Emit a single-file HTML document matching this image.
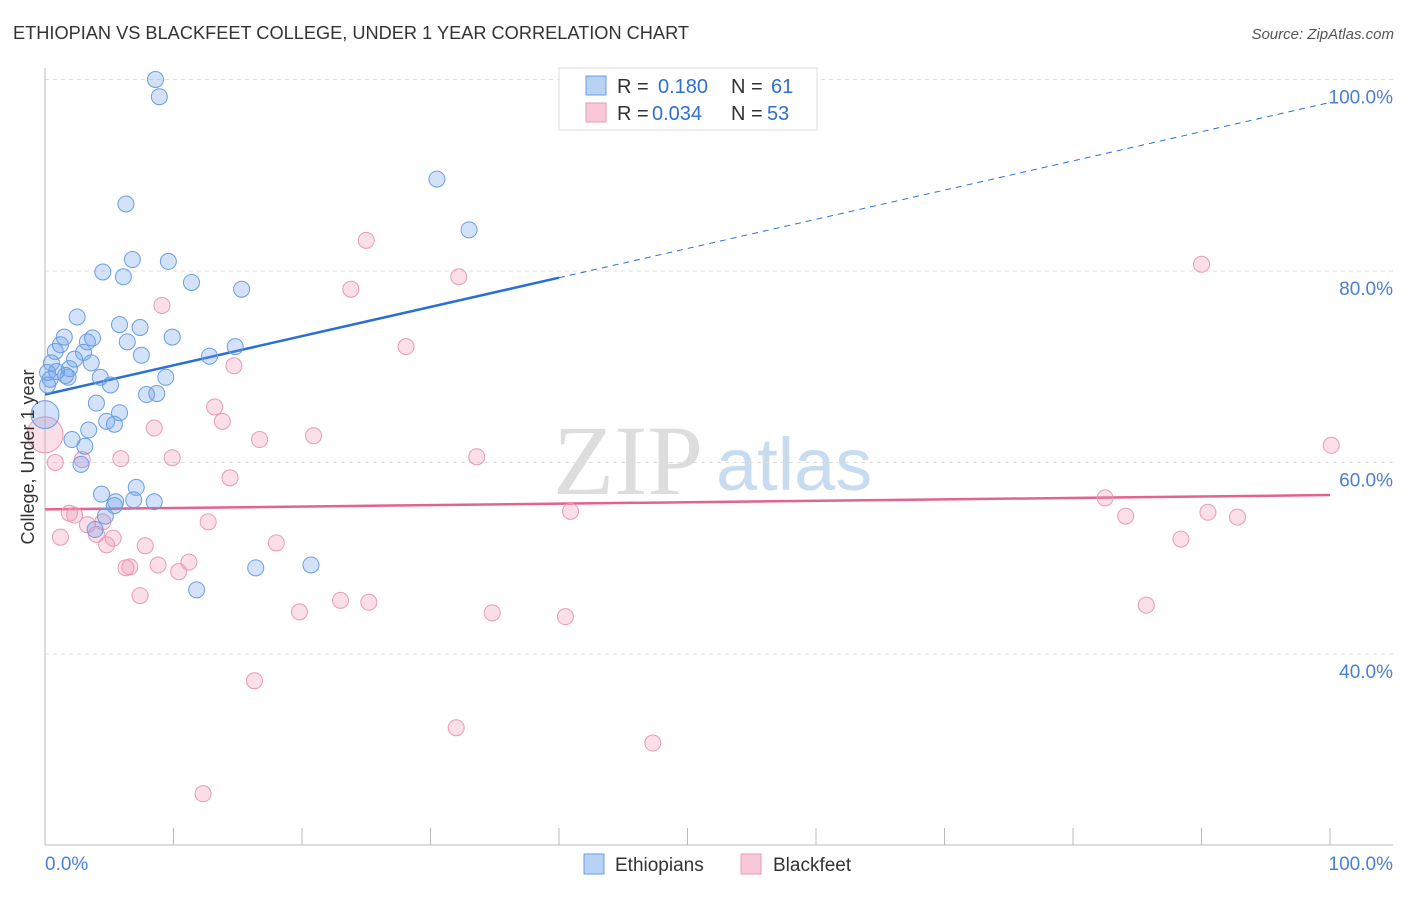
<!DOCTYPE html>
<html><head><meta charset="utf-8"><style>
body{margin:0;background:#fff;font-family:"Liberation Sans",sans-serif;}
svg text{font-family:"Liberation Sans",sans-serif;}
</style></head><body>
<svg id="c" width="1406" height="892">
<text x="13" y="39" font-size="18" fill="#333" textLength="676" lengthAdjust="spacingAndGlyphs">ETHIOPIAN VS BLACKFEET COLLEGE, UNDER 1 YEAR CORRELATION CHART</text>
<text x="1394" y="39" font-size="15" fill="#555" font-style="italic" text-anchor="end">Source: ZipAtlas.com</text>
<g>
<text x="553" y="494" font-size="100" fill="#ddd" style="font-family:'Liberation Serif',serif">ZIP</text>
<text x="716" y="490" font-size="74" fill="#c8dcf0">atlas</text>
</g>
<g id="grid"></g><g id="axes"></g><g id="lines"></g><g id="dots"></g>
<text transform="translate(34,457) rotate(-90)" font-size="18" fill="#333" text-anchor="middle">College, Under 1 year</text>
<g>
<rect x="559" y="68" width="258" height="62" fill="#fff" stroke="#ddd"/>
<rect x="586" y="76" width="20" height="19" fill="#b8d2f4" stroke="#6a9ee0"/>
<rect x="586" y="103" width="20" height="19" fill="#f8c8d8" stroke="#e89ab4"/>
<text x="617" y="93" font-size="20" fill="#333">R =</text>
<text x="658" y="93" font-size="20" fill="#2f6fcf">0.180</text>
<text x="731" y="93" font-size="20" fill="#333">N =</text>
<text x="771" y="93" font-size="20" fill="#2f6fcf">61</text>
<text x="617" y="120" font-size="20" fill="#333">R =</text>
<text x="652" y="120" font-size="20" fill="#2f6fcf">0.034</text>
<text x="731" y="120" font-size="20" fill="#333">N =</text>
<text x="767" y="120" font-size="20" fill="#2f6fcf">53</text>
</g>
<g>
<rect x="584" y="854" width="20" height="20" fill="#b8d2f4" stroke="#6a9ee0"/>
<text x="615" y="871" font-size="19" fill="#333">Ethiopians</text>
<rect x="741" y="854" width="20" height="20" fill="#f8c8d8" stroke="#e89ab4"/>
<text x="773" y="871" font-size="19" fill="#333">Blackfeet</text>
</g>
</svg>
<script>
const blueX=[8.6,8.9,30.5,33.0,6.3,6.8,9.6,4.5,6.1,11.4,15.3,2.5,5.8,7.4,1.5,3.7,9.9,3.3,1.2,6.4,14.8,3.0,0.8,7.5,12.8,2.3,3.6,0.5,1.9,0.9,0.2,1.8,1.6,0.4,9.4,5.1,4.3,7.9,8.7,4.0,5.8,4.8,5.4,3.4,2.1,3.1,2.8,0,4.4,7.1,5.5,8.5,5.4,6.9,4.7,3.9,16.4,20.7,11.8,0.2];
const blueY=[100,98.2,89.6,84.3,87.0,81.2,81.0,79.9,79.4,78.8,78.1,75.2,74.4,74.1,73.1,73.0,73.1,72.6,72.3,72.6,72.1,71.5,71.6,71.2,71.1,70.8,70.4,70.4,69.8,69.5,69.4,68.9,69.1,68.7,68.9,68.1,68.9,67.1,67.2,66.2,65.2,64.3,64.0,63.4,62.4,61.7,59.8,65.0,56.7,57.4,55.9,55.9,55.5,56.1,54.4,53.0,49.0,49.3,46.7,68.1];
const pinkX=[0,0.8,25.0,32.2,23.8,9.1,28.1,14.7,13.2,13.8,8.5,16.7,20.9,9.9,5.9,33.6,2.9,14.4,90.0,100.1,82.5,40.9,84.1,90.5,92.8,88.4,1.9,2.3,3.3,5.3,4.0,4.5,12.7,18.0,1.2,7.8,4.8,8.8,11.2,10.4,6.3,6.6,7.4,19.8,23.0,25.2,34.8,40.5,85.7,16.3,32.0,47.3,12.3];
const pinkY=[62.9,60.0,83.2,79.4,78.1,76.4,72.1,70.1,65.8,64.3,63.6,62.4,62.8,60.5,60.4,60.6,60.3,58.4,80.7,61.8,56.3,54.9,54.4,54.8,54.3,52.0,54.7,54.5,53.5,52.1,52.5,53.8,53.8,51.6,52.2,51.3,51.4,49.3,49.6,48.6,49.0,49.1,46.1,44.4,45.6,45.4,44.3,43.9,45.1,37.2,32.3,30.7,25.4];
const blueTrend=[67.1,97.6];
const pinkTrend=[55.1,56.6];
const yTicks=[100,80,60,40];
const yTickLabels=["100.0%","80.0%","60.0%","40.0%"];
const xTickLabels=["0.0%","100.0%"];

const NS="http://www.w3.org/2000/svg";
const sx=v=>45+v*12.85;
const sy=v=>79.5+(100-v)*9.575;
function mk(tag,attrs,parent){const e=document.createElementNS(NS,tag);for(const k in attrs)e.setAttribute(k,attrs[k]);document.getElementById(parent).appendChild(e);return e;}
yTicks.forEach((t,i)=>{
 const g=mk('line',{x1:45,x2:1393,y1:sy(t),y2:sy(t),stroke:'#ddd','stroke-dasharray':'4,4'},'grid');
 
 
 const l=mk('text',{x:1393,y:sy(t)+24,'font-size':19,fill:'#4a7fd4','text-anchor':'end'},'grid');
 l.textContent=yTickLabels[i];
 
 
});
const xa=mk('line',{x1:45,x2:1393,y1:845,y2:845,stroke:'#bbb'},'axes');


const ya=mk('line',{x1:45,x2:45,y1:68,y2:845,stroke:'#bbb'},'axes');


for(let i=0;i<=10;i++){
 const t=mk('line',{x1:sx(i*10),x2:sx(i*10),y1:828,y2:845,stroke:'#bbb'},'axes');
 
 
}
const xl0=mk('text',{x:45,y:870,'font-size':19,fill:'#4a7fd4'},'axes');xl0.textContent=xTickLabels[0];


const xl1=mk('text',{x:1393,y:870,'font-size':19,fill:'#4a7fd4','text-anchor':'end'},'axes');xl1.textContent=xTickLabels[1];



const bAt=x=>blueTrend[0]+(blueTrend[1]-blueTrend[0])*x/100;
const b1=mk('line',{x1:sx(0),y1:sy(bAt(0)),x2:sx(40),y2:sy(bAt(40)),stroke:'#2a6fd6','stroke-width':2.5},'lines');


const b2=mk('line',{x1:sx(40),y1:sy(bAt(40)),x2:sx(100),y2:sy(bAt(100)),stroke:'#2a6fd6','stroke-width':1,'stroke-dasharray':'6,5'},'lines');


const p1=mk('line',{x1:sx(0),y1:sy(pinkTrend[0]),x2:sx(100),y2:sy(pinkTrend[1]),stroke:'#e4628e','stroke-width':2.5},'lines');



pinkX.forEach((x,i)=>{
 const c=mk('circle',{cx:sx(x),cy:sy(pinkY[i]),r:i===0?18:8,fill:'rgba(240,150,180,0.3)',stroke:'#e89ab4','stroke-width':1},'dots');
 
 
});
blueX.forEach((x,i)=>{
 const c=mk('circle',{cx:sx(x),cy:sy(blueY[i]),r:i===47?14:8,fill:'rgba(110,160,235,0.3)',stroke:'#6a9ee0','stroke-width':1},'dots');
 
 
});
</script>
</body></html>
